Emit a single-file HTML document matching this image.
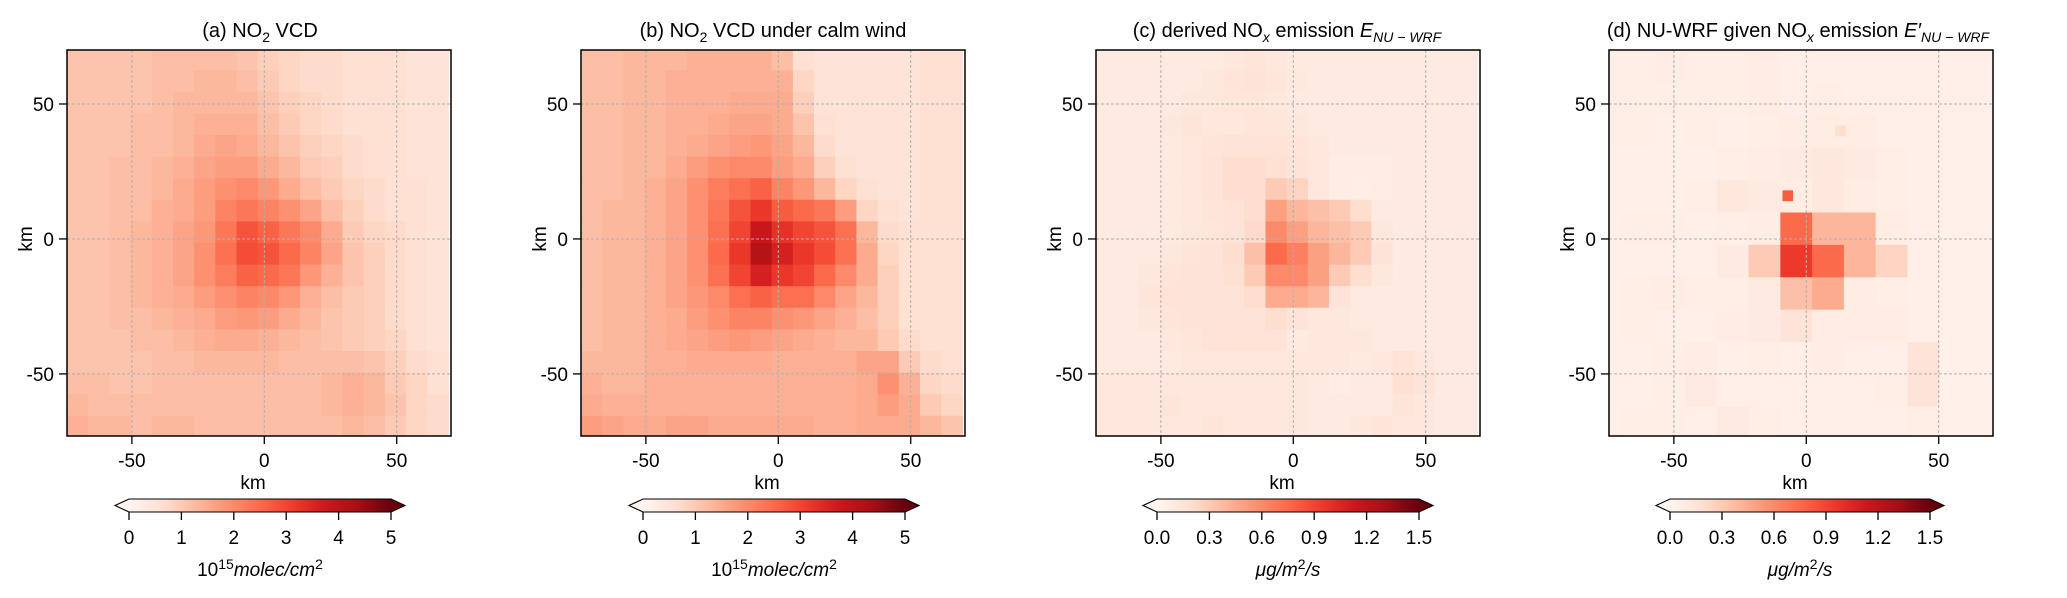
<!DOCTYPE html>
<html><head><meta charset="utf-8"><style>
html,body{margin:0;padding:0;background:#fff;}
svg{display:block;font-family:"Liberation Sans","DejaVu Sans",sans-serif;}
</style></head><body>
<svg id="fig" width="2067" height="598" viewBox="0 0 2067 598">
<defs>
<linearGradient id="reds" x1="0" x2="1" y1="0" y2="0">
<stop offset="0" stop-color="#fff5f0"/><stop offset="0.125" stop-color="#fee0d2"/><stop offset="0.25" stop-color="#fcbba1"/><stop offset="0.375" stop-color="#fc9272"/><stop offset="0.5" stop-color="#fb6a4a"/><stop offset="0.625" stop-color="#ef3b2c"/><stop offset="0.75" stop-color="#cb181d"/><stop offset="0.875" stop-color="#a50f15"/><stop offset="1" stop-color="#67000d"/>
</linearGradient>
</defs>
</svg>
<script>
// ---- data ----
const panelTitles = ["a","b","c","d"];
const axisTicks = [-50, 0, 50];
const cbTicksNO2 = [0,1,2,3,4,5];
const cbTickLabelsNO2 = ["0","1","2","3","4","5"];
const cbTicksE = [0,0.3,0.6,0.9,1.2,1.5];
const cbTickLabelsE = ["0.0","0.3","0.6","0.9","1.2","1.5"];

// panel a: 18x18, 8 km cells, rows top (north) to bottom
const vcdA = [
[1.1,1.1,1.1,1.1,1.2,1.2,1.2,1.2,1.1,0.9,0.8,0.7,0.7,0.6,0.6,0.6,0.5,0.5],
[1.1,1.1,1.1,1.1,1.2,1.2,1.3,1.3,1.2,1.0,0.8,0.7,0.7,0.6,0.6,0.6,0.5,0.5],
[1.1,1.1,1.1,1.1,1.2,1.3,1.3,1.3,1.3,1.1,0.9,0.8,0.7,0.6,0.6,0.6,0.5,0.5],
[1.1,1.1,1.1,1.2,1.2,1.3,1.4,1.4,1.4,1.2,1.0,0.8,0.7,0.6,0.6,0.6,0.5,0.5],
[1.1,1.1,1.1,1.2,1.2,1.3,1.5,1.6,1.5,1.3,1.1,0.9,0.8,0.7,0.6,0.6,0.5,0.5],
[1.1,1.1,1.2,1.2,1.3,1.4,1.6,1.7,1.7,1.5,1.3,1.0,0.9,0.7,0.6,0.6,0.5,0.5],
[1.1,1.1,1.2,1.2,1.3,1.5,1.7,1.9,2.0,1.8,1.5,1.2,1.0,0.8,0.7,0.6,0.6,0.5],
[1.1,1.1,1.2,1.2,1.4,1.5,1.7,2.1,2.3,2.1,1.9,1.6,1.2,0.9,0.7,0.6,0.6,0.5],
[1.1,1.1,1.2,1.3,1.4,1.6,1.8,2.3,2.8,2.6,2.3,2.0,1.5,1.0,0.8,0.7,0.6,0.5],
[1.1,1.1,1.2,1.3,1.4,1.6,1.9,2.4,2.9,2.8,2.5,2.1,1.6,1.1,0.9,0.7,0.6,0.5],
[1.1,1.1,1.2,1.3,1.4,1.6,1.9,2.2,2.6,2.5,2.3,1.8,1.4,1.1,0.9,0.7,0.6,0.5],
[1.1,1.1,1.2,1.3,1.4,1.5,1.7,1.9,2.1,2.0,1.8,1.4,1.2,1.0,0.9,0.7,0.6,0.5],
[1.1,1.1,1.2,1.2,1.3,1.4,1.5,1.7,1.8,1.7,1.5,1.3,1.1,1.0,0.9,0.7,0.6,0.5],
[1.1,1.1,1.1,1.2,1.2,1.3,1.4,1.5,1.5,1.4,1.3,1.2,1.1,1.0,0.9,0.8,0.6,0.5],
[1.1,1.1,1.1,1.1,1.2,1.2,1.3,1.3,1.3,1.3,1.2,1.2,1.2,1.2,1.1,0.9,0.7,0.6],
[1.2,1.2,1.1,1.1,1.2,1.2,1.2,1.2,1.2,1.2,1.2,1.2,1.3,1.4,1.3,1.0,0.8,0.6],
[1.3,1.2,1.2,1.2,1.2,1.2,1.2,1.2,1.2,1.2,1.2,1.2,1.3,1.4,1.3,1.1,0.8,0.7],
[1.4,1.3,1.3,1.2,1.3,1.3,1.2,1.2,1.2,1.2,1.2,1.2,1.2,1.3,1.2,1.0,0.8,0.7]];

const vcdB = [
[1.2,1.2,1.3,1.3,1.3,1.4,1.4,1.4,1.4,1.2,0.6,0.5,0.5,0.5,0.5,0.5,0.6,0.6],
[1.2,1.2,1.3,1.3,1.4,1.4,1.4,1.4,1.4,1.4,0.8,0.5,0.5,0.5,0.5,0.5,0.6,0.6],
[1.2,1.2,1.3,1.3,1.4,1.4,1.4,1.5,1.5,1.5,0.9,0.5,0.5,0.5,0.5,0.5,0.6,0.6],
[1.2,1.2,1.3,1.3,1.4,1.4,1.5,1.6,1.6,1.5,1.1,0.6,0.5,0.5,0.5,0.5,0.6,0.6],
[1.2,1.2,1.3,1.3,1.4,1.5,1.6,1.7,1.8,1.6,1.3,0.7,0.5,0.5,0.5,0.5,0.6,0.6],
[1.2,1.2,1.3,1.3,1.5,1.7,1.9,2.0,2.0,1.7,1.5,0.9,0.6,0.5,0.5,0.5,0.6,0.6],
[1.2,1.2,1.3,1.4,1.6,1.9,2.2,2.4,2.6,2.1,1.8,1.3,0.8,0.6,0.5,0.5,0.6,0.6],
[1.2,1.3,1.3,1.4,1.6,1.9,2.3,2.8,3.2,2.7,2.5,2.3,1.7,0.8,0.6,0.5,0.6,0.6],
[1.2,1.3,1.3,1.4,1.6,1.9,2.4,3.0,3.8,3.3,3.0,2.8,2.4,1.3,0.7,0.6,0.6,0.6],
[1.2,1.3,1.3,1.4,1.6,1.9,2.5,3.2,4.1,3.6,3.2,2.9,2.4,1.5,0.8,0.6,0.6,0.6],
[1.2,1.3,1.3,1.4,1.6,1.9,2.4,3.0,3.6,3.2,3.0,2.5,2.0,1.5,0.9,0.6,0.6,0.6],
[1.2,1.3,1.3,1.4,1.6,1.8,2.0,2.4,2.6,2.4,2.4,2.0,1.6,1.3,0.9,0.6,0.6,0.6],
[1.2,1.3,1.3,1.4,1.5,1.7,1.9,2.1,2.1,1.9,1.8,1.6,1.4,1.2,0.9,0.6,0.6,0.6],
[1.2,1.3,1.3,1.4,1.5,1.6,1.7,1.8,1.7,1.6,1.5,1.4,1.3,1.3,1.0,0.7,0.6,0.6],
[1.3,1.3,1.3,1.4,1.4,1.5,1.5,1.5,1.5,1.4,1.4,1.4,1.4,1.6,1.6,1.0,0.7,0.6],
[1.4,1.3,1.3,1.4,1.4,1.4,1.4,1.4,1.4,1.4,1.4,1.4,1.4,1.5,1.9,1.4,0.8,0.7],
[1.5,1.4,1.4,1.4,1.4,1.4,1.4,1.4,1.4,1.4,1.4,1.4,1.4,1.5,1.7,1.5,1.0,0.8],
[1.7,1.6,1.5,1.5,1.6,1.6,1.5,1.5,1.5,1.5,1.5,1.4,1.4,1.5,1.5,1.5,1.3,1.1]];

const emisC = [
[0.1,0.1,0.1,0.1,0.1,0.1,0.12,0.14,0.12,0.1,0.1,0.1,0.1,0.1,0.1,0.1,0.1,0.1],
[0.1,0.1,0.1,0.1,0.1,0.12,0.14,0.15,0.13,0.11,0.1,0.1,0.1,0.1,0.1,0.1,0.1,0.1],
[0.1,0.1,0.1,0.1,0.12,0.12,0.13,0.13,0.12,0.1,0.1,0.1,0.1,0.1,0.1,0.1,0.1,0.1],
[0.1,0.1,0.1,0.12,0.14,0.12,0.12,0.13,0.13,0.12,0.1,0.1,0.1,0.1,0.1,0.1,0.1,0.1],
[0.1,0.1,0.1,0.1,0.12,0.14,0.15,0.15,0.16,0.14,0.12,0.1,0.1,0.1,0.1,0.1,0.1,0.1],
[0.1,0.1,0.1,0.1,0.12,0.15,0.2,0.2,0.18,0.15,0.12,0.08,0.07,0.08,0.1,0.1,0.1,0.1],
[0.1,0.1,0.1,0.1,0.12,0.15,0.2,0.2,0.3,0.25,0.12,0.07,0.06,0.08,0.1,0.1,0.1,0.1],
[0.1,0.1,0.1,0.1,0.12,0.14,0.16,0.2,0.5,0.4,0.35,0.3,0.2,0.1,0.1,0.1,0.1,0.1],
[0.1,0.1,0.1,0.1,0.12,0.13,0.15,0.22,0.6,0.5,0.4,0.35,0.3,0.12,0.1,0.1,0.1,0.1],
[0.1,0.1,0.1,0.12,0.14,0.15,0.2,0.35,0.75,0.65,0.5,0.4,0.3,0.15,0.1,0.1,0.1,0.1],
[0.1,0.1,0.12,0.14,0.15,0.15,0.18,0.3,0.6,0.6,0.5,0.3,0.2,0.12,0.1,0.1,0.1,0.1],
[0.1,0.1,0.14,0.16,0.15,0.15,0.15,0.2,0.45,0.45,0.4,0.15,0.1,0.1,0.1,0.1,0.1,0.1],
[0.1,0.1,0.12,0.14,0.15,0.15,0.15,0.15,0.2,0.15,0.12,0.12,0.1,0.1,0.1,0.1,0.1,0.1],
[0.1,0.1,0.1,0.12,0.13,0.15,0.16,0.16,0.16,0.1,0.12,0.12,0.12,0.1,0.1,0.1,0.1,0.1],
[0.1,0.1,0.1,0.1,0.12,0.12,0.12,0.12,0.12,0.12,0.12,0.12,0.1,0.12,0.16,0.12,0.1,0.1],
[0.12,0.12,0.12,0.12,0.12,0.12,0.12,0.12,0.12,0.12,0.1,0.08,0.1,0.1,0.18,0.15,0.1,0.1],
[0.12,0.12,0.12,0.14,0.12,0.12,0.12,0.12,0.12,0.12,0.1,0.1,0.1,0.1,0.14,0.12,0.1,0.1],
[0.12,0.12,0.12,0.12,0.12,0.14,0.12,0.12,0.12,0.12,0.1,0.1,0.12,0.14,0.12,0.12,0.1,0.1]];

// panel d: 13x13, 12 km cells
const emisD = [
[0.05,0.05,0.05,0.05,0.05,0.05,0.05,0.05,0.05,0.05,0.05,0.05,0.05],
[0.06,0.06,0.07,0.06,0.06,0.08,0.05,0.05,0.05,0.05,0.05,0.05,0.05],
[0.06,0.06,0.06,0.06,0.06,0.08,0.05,0.06,0.05,0.05,0.05,0.05,0.05],
[0.06,0.06,0.05,0.06,0.05,0.06,0.08,0.08,0.08,0.05,0.05,0.04,0.04],
[0.05,0.05,0.05,0.05,0.06,0.08,0.1,0.12,0.1,0.06,0.05,0.04,0.04],
[0.05,0.05,0.05,0.06,0.12,0.1,0.08,0.12,0.08,0.06,0.05,0.04,0.04],
[0.05,0.06,0.06,0.05,0.06,0.08,0.75,0.4,0.4,0.08,0.05,0.04,0.04],
[0.05,0.05,0.05,0.05,0.1,0.3,0.95,0.75,0.4,0.25,0.05,0.04,0.04],
[0.05,0.06,0.08,0.06,0.06,0.1,0.35,0.45,0.08,0.06,0.05,0.04,0.04],
[0.05,0.06,0.05,0.05,0.07,0.1,0.15,0.08,0.07,0.08,0.05,0.04,0.04],
[0.05,0.05,0.06,0.08,0.05,0.06,0.05,0.07,0.05,0.05,0.15,0.04,0.04],
[0.05,0.05,0.06,0.1,0.05,0.05,0.05,0.05,0.05,0.06,0.15,0.04,0.04],
[0.05,0.06,0.06,0.05,0.1,0.06,0.05,0.05,0.05,0.05,0.06,0.04,0.04]];
const spotX = [-7, 13];
const spotY = [16, 40];
const spotV = [0.8, 0.2];

// ---- drawing ----
const NS = "http://www.w3.org/2000/svg";
const svg = document.getElementById("fig");
const stops = [[0,"#fff5f0"],[0.125,"#fee0d2"],[0.25,"#fcbba1"],[0.375,"#fc9272"],[0.5,"#fb6a4a"],[0.625,"#ef3b2c"],[0.75,"#cb181d"],[0.875,"#a50f15"],[1,"#67000d"]];
function hex(h){return [1,3,5].map(i=>parseInt(h.substr(i,2),16));}
function cmap(t){
  t=Math.max(0,Math.min(1,t));
  for(let i=1;i<stops.length;i++){ if(t<=stops[i][0]){
    const a=stops[i-1],b=stops[i],f=(t-a[0])/(b[0]-a[0]);
    const ca=hex(a[1]),cb=hex(b[1]);
    return "rgb("+ca.map((v,k)=>Math.round(v+(cb[k]-v)*f)).join(",")+")";}}
  return stops[stops.length-1][1];
}
function mk(tag, attrs, parent){const e=document.createElementNS(NS,tag);for(const k in attrs)e.setAttribute(k,attrs[k]);(parent||svg).appendChild(e);return e;}

const AX_TOP=50, AX_BOT=436, XMIN=-74.5, XMAX=70.5, YMIN=-73, YMAX=70;
const panels = [
 {left:67, data:vcdA, vmax:5, cell:8, x0:-74.5, ytop:70.5, cbl:129, cbr:391, ticks:cbTicksNO2, labels:cbTickLabelsNO2, unit:"no2"},
 {left:581, data:vcdB, vmax:5, cell:8, x0:-74.5, ytop:70.5, cbl:643, cbr:905, ticks:cbTicksNO2, labels:cbTickLabelsNO2, unit:"no2"},
 {left:1096, data:emisC, vmax:1.5, cell:8, x0:-74.5, ytop:70.5, cbl:1157, cbr:1419, ticks:cbTicksE, labels:cbTickLabelsE, unit:"e"},
 {left:1609, data:emisD, vmax:1.5, cell:12, x0:-81.8, ytop:81.8, cbl:1670, cbr:1930, ticks:cbTicksE, labels:cbTickLabelsE, unit:"e"}
];
const AXW=384;

panels.forEach((p,pi)=>{
  const sx = km => p.left + (km-XMIN)/(XMAX-XMIN)*AXW;
  const sy = km => AX_TOP + (YMAX-km)/(YMAX-YMIN)*(AX_BOT-AX_TOP);
  const g = mk("g",{});
  
  
  const cid="clip"+pi;
  const cp=mk("clipPath",{id:cid},g);
  mk("rect",{x:p.left,y:AX_TOP,width:AXW,height:AX_BOT-AX_TOP},cp);
  const hm=mk("g",{"clip-path":"url(#"+cid+")"},g);
  
  
  p.data.forEach((row,r)=>row.forEach((v,c)=>{
    const xa=p.x0+c*p.cell, xb=xa+p.cell, ya=p.ytop-r*p.cell, yb=ya-p.cell;
    const rc=mk("rect",{x:sx(xa).toFixed(2),y:sy(ya).toFixed(2),width:(sx(xb)-sx(xa)+0.6).toFixed(2),height:(sy(yb)-sy(ya)+0.6).toFixed(2),fill:cmap(v/p.vmax)},hm);
    
    
  }));
  if(pi===3){
    spotX.forEach((x,i)=>{
      const s=mk("rect",{x:sx(x-2),y:sy(spotY[i]+2),width:sx(x+2)-sx(x-2),height:sy(spotY[i]-2)-sy(spotY[i]+2),fill:cmap(spotV[i]/p.vmax)},hm);
      
      
    });
  }
  axisTicks.forEach(t=>{
    const gl=mk("line",{x1:sx(t),x2:sx(t),y1:AX_TOP,y2:AX_BOT,stroke:"#b0b0b0","stroke-width":1,"stroke-dasharray":"3,2"},g);
    
    
    const gl2=mk("line",{x1:p.left,x2:p.left+AXW,y1:sy(t),y2:sy(t),stroke:"#b0b0b0","stroke-width":1,"stroke-dasharray":"3,2"},g);
    
    
    mk("line",{x1:sx(t),x2:sx(t),y1:AX_BOT,y2:AX_BOT+8,stroke:"#000","stroke-width":1.3},g);
    mk("line",{x1:p.left-8,x2:p.left,y1:sy(t),y2:sy(t),stroke:"#000","stroke-width":1.3},g);
    const xl=mk("text",{x:sx(t),y:467,"font-size":19,"text-anchor":"middle",fill:"#000"},g);
    xl.textContent=String(t);
    
    
    const yl=mk("text",{x:p.left-13,y:sy(t)+7,"font-size":19,"text-anchor":"end",fill:"#000"},g);
    yl.textContent=String(t);
    
    
  });
  const fr=mk("rect",{x:p.left,y:AX_TOP,width:AXW,height:AX_BOT-AX_TOP,fill:"none",stroke:"#000","stroke-width":1.5},g);
  
  
  const xt=mk("text",{x:p.left+AXW/2-6,y:489,"font-size":19,"text-anchor":"middle"},g);
  xt.textContent="km";
  
  
  const yt=mk("text",{x:0,y:0,"font-size":19,"text-anchor":"middle",transform:"translate("+(p.left-35)+","+239+") rotate(-90)"},g);
  yt.textContent="km";
  
  
  const cb=mk("g",{},g);
  
  
  const cy1=499, cy2=512;
  mk("rect",{x:p.cbl,y:cy1,width:p.cbr-p.cbl,height:cy2-cy1,fill:"url(#reds)"},cb);
  mk("polygon",{points:[p.cbl,cy1,p.cbl-14,(cy1+cy2)/2,p.cbl,cy2].join(","),fill:"#fff5f0"},cb);
  mk("polygon",{points:[p.cbr,cy1,p.cbr+14,(cy1+cy2)/2,p.cbr,cy2].join(","),fill:"#67000d"},cb);
  mk("polygon",{points:[p.cbl,cy1,p.cbr,cy1,p.cbr+14,(cy1+cy2)/2,p.cbr,cy2,p.cbl,cy2,p.cbl-14,(cy1+cy2)/2].join(","),fill:"none",stroke:"#000","stroke-width":1.1},cb);
  const cx = v => p.cbl + v/p.vmax*(p.cbr-p.cbl);
  p.ticks.forEach((t,i)=>{
    mk("line",{x1:cx(t),x2:cx(t),y1:cy2,y2:cy2+8,stroke:"#000","stroke-width":1.3},cb);
    const tl=mk("text",{x:cx(t),y:544,"font-size":19,"text-anchor":"middle"},cb);
    tl.textContent=p.labels[i];
    
    
  });
  const ul=mk("text",{x:(p.cbl+p.cbr)/2,y:576,"font-size":19,"text-anchor":"middle"},cb);
  
  
  if(p.unit==="no2"){
    ul.innerHTML='10<tspan dy="-7" font-size="14">15</tspan><tspan dy="7" font-style="italic">molec/cm</tspan><tspan dy="-7" font-size="14">2</tspan>';
  } else {
    ul.innerHTML='<tspan font-style="italic">μg/m</tspan><tspan dy="-7" font-size="14">2</tspan><tspan dy="7" font-style="italic">/s</tspan>';
  }
});

const titleSpecs = [
 {x:260, html:'(a) NO<tspan dy="5" font-size="14">2</tspan><tspan dy="-5"> VCD</tspan>'},
 {x:773, html:'(b) NO<tspan dy="5" font-size="14">2</tspan><tspan dy="-5"> VCD under calm wind</tspan>'},
 {x:1287, html:'(c) derived NO<tspan dy="5" font-size="14" font-style="italic">x</tspan><tspan dy="-5"> emission </tspan><tspan font-style="italic">E</tspan><tspan dy="5" font-size="14" font-style="italic">NU − WRF</tspan>'},
 {x:1798, html:'(d) NU-WRF given NO<tspan dy="5" font-size="14" font-style="italic">x</tspan><tspan dy="-5"> emission </tspan><tspan font-style="italic">E′</tspan><tspan dy="5" font-size="14" font-style="italic">NU − WRF</tspan>'}
];
titleSpecs.forEach((t,i)=>{
  const e=mk("text",{x:t.x,y:37,"font-size":20,"text-anchor":"middle"});
  e.innerHTML=t.html;
  
  
});
</script>
</body></html>
